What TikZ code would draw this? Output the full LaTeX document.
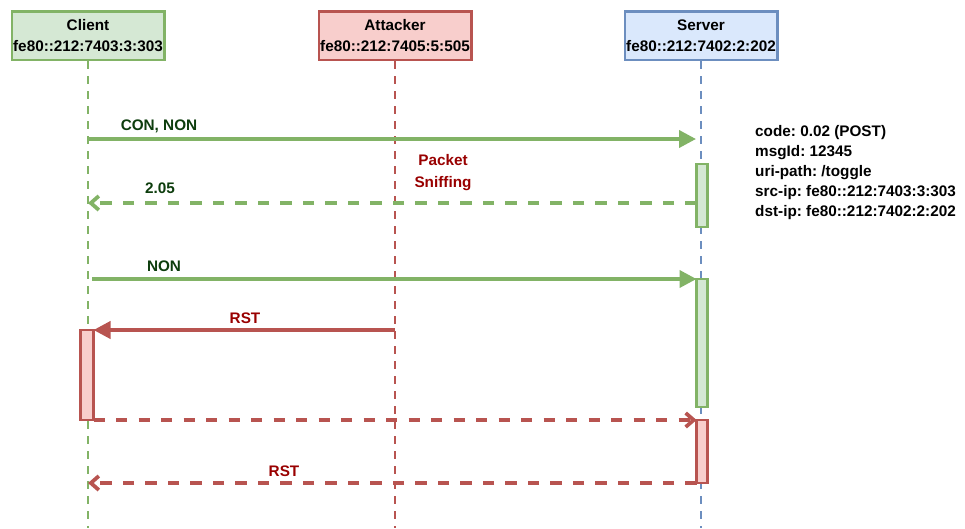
\documentclass[tikz,border=0pt]{standalone}
\usepackage{fontspec}
\setmainfont{Liberation Sans}
\usetikzlibrary{arrows.meta}
\frenchspacing
\definecolor{gfill}{HTML}{D5E8D4}\definecolor{gline}{HTML}{82B366}
\definecolor{rfill}{HTML}{F8CECC}\definecolor{rline}{HTML}{B85450}
\definecolor{bfill}{HTML}{DAE8FC}\definecolor{bline}{HTML}{6C8EBF}
\definecolor{gtext}{HTML}{0D3D0D}\definecolor{rtext}{HTML}{990000}
\tikzset{
  actor/.style={draw, line width=2.5pt, minimum width=152.5pt, minimum height=48.5pt, align=center, inner sep=0pt, font=\fontsize{15.3}{21}\selectfont\bfseries},
  life/.style={line width=2.5pt, dash pattern=on 7.5pt off 7.5pt},
  act/.style={draw, line width=2.5pt, minimum width=11pt, inner sep=0pt, outer sep=0pt},
  msg/.style={line width=3.75pt, -{Triangle[length=17pt,width=17pt]}},
  dmsg/.style={line width=3.75pt, dash pattern=on 11.25pt off 11.25pt, -{Straight Barb[length=8pt,width=14pt]}},
  lbl/.style={font=\fontsize{15.3}{20}\selectfont\bfseries, inner sep=0pt, text height=11pt, text depth=0pt},
}
\begin{document}
\begin{tikzpicture}[x=1pt,y=-1pt]
\fill[white] (0,0) rectangle (965,528);
\useasboundingbox (0,0) rectangle (965,528);
% actors
\node[actor, fill=gfill, draw=gline] (client) at (88,35.5) {Client\\fe80::212:7403:3:303};
\node[actor, fill=rfill, draw=rline] (attacker) at (395,35.5) {Attacker\\fe80::212:7405:5:505};
\node[actor, fill=bfill, draw=bline] (server) at (701,35.5) {Server\\fe80::212:7402:2:202};
\coordinate (cend) at (88,528);
\coordinate (aend) at (395,528);
\coordinate (send) at (701,528);
\draw[life, gline] (client.south) -- (cend);
\draw[life, rline] (attacker.south) -- (aend);
\draw[life, bline] (server.south) -- (send);
% activations
\node[act, fill=gfill, draw=gline, minimum height=63pt] (s1) at (702,195.5) {};
\node[act, fill=gfill, draw=gline, minimum height=128pt] (s2) at (702,343) {};
\node[act, fill=rfill, draw=rline, minimum width=13pt, minimum height=90pt] (c1) at (87,375) {};
\node[act, fill=rfill, draw=rline, minimum height=63pt] (s3) at (702,451.5) {};
% message coordinates
\coordinate (c139) at (88,139);
\coordinate (s139) at (696,139);
\coordinate (c203) at (88,203);
\coordinate (c279) at (92,279);
\coordinate (a330) at (395,330);
\coordinate (c420) at (88,420);
\coordinate (c483) at (88,483);
% messages
\draw[msg, gline] (c139) -- (s139);
\draw[dmsg, gline] (s1.west |- c203) -- (c203);
\draw[msg, gline] (c279) -- (s2.west |- c279);
\draw[msg, rline] (a330) -- (c1.east |- a330);
\draw[dmsg, rline] (c1.east |- c420) -- (s3.west |- c420);
\draw[dmsg, rline] (s3.west |- c483) -- (c483);
% labels
\node[lbl, text=gtext] (l1) at (159,125) {CON, NON};
\node[lbl, text=gtext] (l2) at (160,188) {2.05};
\node[lbl, text=gtext] (l3) at (164,266) {NON};
\node[lbl, text=rtext] (l4) at (245,318) {RST};
\node[lbl, text=rtext] (l5) at (284,471) {RST};
\node[lbl, text=rtext] (ps1) at (443,160) {Packet};
\node[lbl, text=rtext] (ps2) at (443,182) {Sniffing};
% info
\node[lbl, anchor=west] (i1) at (755,131) {code: 0.02 (POST)};
\node[lbl, anchor=west] (i2) at (755,151) {msgId: 12345};
\node[lbl, anchor=west] (i3) at (755,171) {uri-path: /toggle};
\node[lbl, anchor=west] (i4) at (755,191) {src-ip: fe80::212:7403:3:303};
\node[lbl, anchor=west] (i5) at (755,211) {dst-ip: fe80::212:7402:2:202};
\end{tikzpicture}
\end{document}
